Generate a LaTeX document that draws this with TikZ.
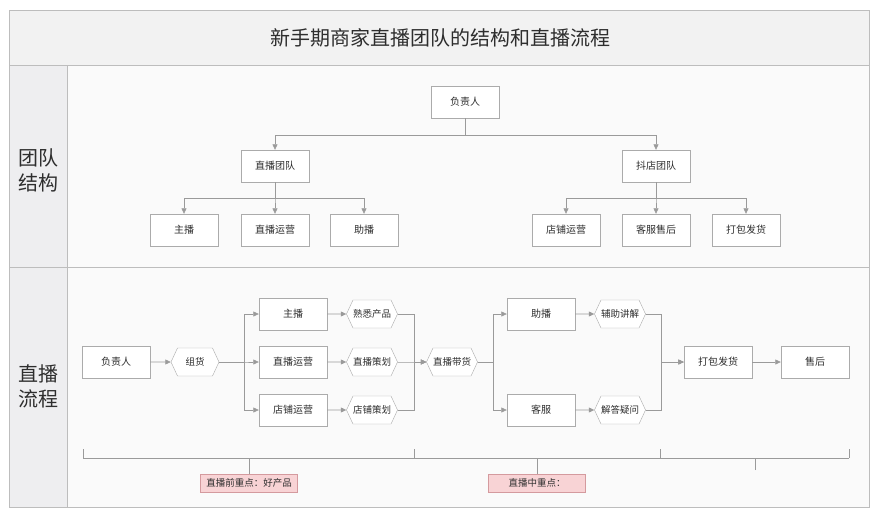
\documentclass[tikz,border=0pt]{standalone}
\usepackage{fontspec}
\setmainfont{Noto Sans CJK SC}
\usepackage{xcolor}
\usetikzlibrary{arrows.meta, positioning, shapes.symbols}
\definecolor{framegray}{HTML}{BDBDBD}
\definecolor{boxgray}{HTML}{ABABAB}
\definecolor{arrowgray}{HTML}{9A9A9A}
\definecolor{textgray}{HTML}{2E2E2E}
\definecolor{bandgray}{HTML}{F2F2F2}
\definecolor{colgray}{HTML}{EEEEF0}
\definecolor{notepink}{HTML}{F8D3D5}
\definecolor{notered}{HTML}{D49A9E}

\begin{document}
\begin{tikzpicture}[x=1pt, y=-1pt,
    box/.style={draw=boxgray, fill=white, minimum width=68pt, minimum height=32pt,
        inner sep=0pt, text=textgray, font=\fontsize{10}{12}\selectfont},
    hexa/.style={draw=boxgray, fill=white, signal, signal to=east and west,
        signal pointer angle=130, minimum width=48pt, minimum height=28pt,
        inner xsep=0pt, inner ysep=0pt, text=textgray, font=\fontsize{9.5}{11}\selectfont},
    link/.style={draw=arrowgray, line width=0.6pt},
    flow/.style={link, -{Triangle[length=5.5pt, width=5pt]}},
    note/.style={draw=notered, fill=notepink, minimum width=97pt, minimum height=18pt,
        inner sep=0pt, text=textgray, font=\fontsize{9.5}{11}\selectfont}]
    \useasboundingbox (0,0) rectangle (879,517);
    \fill[white] (0,0) rectangle (879,517);

    % frame, title band and row labels
    \fill[bandgray] (9,10) rectangle (869,65);
    \fill[colgray] (9,65) rectangle (67,507);
    \fill[white!98!black] (67,65) rectangle (869,507);
    \draw[framegray, line width=0.8pt] (9,10) rectangle (869,507);
    \draw[framegray, line width=0.8pt] (9,65) -- (869,65);
    \draw[framegray, line width=0.8pt] (9,267) -- (869,267);
    \draw[framegray, line width=0.8pt] (67,65) -- (67,507);
    \node[text=textgray, font=\fontsize{20}{24}\selectfont] (title) at (440,38) {新手期商家直播团队的结构和直播流程};
    \node[text=textgray, font=\fontsize{20}{25}\selectfont, align=center] (rowteam) at (38,170) {团队\\结构};
    \node[text=textgray, font=\fontsize{20}{25}\selectfont, align=center] (rowflow) at (38,386) {直播\\流程};

    % team structure
    \node[box] (head) at (465,102) {负责人};
    \node[box] (liveteam) at (275,166) {直播团队};
    \node[box] (shopteam) at (656,166) {抖店团队};
    \node[box] (anchor) at (184,230) {主播};
    \node[box] (liveops) at (275,230) {直播运营};
    \node[box] (assist) at (364,230) {助播};
    \node[box] (shopops) at (566,230) {店铺运营};
    \node[box] (service) at (656,230) {客服售后};
    \node[box] (packing) at (746,230) {打包发货};
    \foreach \t in {liveteam, shopteam}
        \draw[flow] (head.south) -- ++(0,17) -| (\t.north);
    \foreach \t in {anchor, liveops, assist}
        \draw[flow] (liveteam.south) -- ++(0,16) -| (\t.north);
    \foreach \t in {shopops, service, packing}
        \draw[flow] (shopteam.south) -- ++(0,16) -| (\t.north);

    % live flow
    \node[box] (boss) at (116,362) {负责人};
    \node[hexa] (goods) at (195,362) {组货};
    \node[box] (fanchor) at (293,314) {主播};
    \node[box] (fliveops) at (293,362) {直播运营};
    \node[box] (fshopops) at (293,410) {店铺运营};
    \node[hexa] (know) at (372,314) {熟悉产品};
    \node[hexa] (plan) at (372,362) {直播策划};
    \node[hexa] (shopplan) at (372,410) {店铺策划};
    \node[hexa] (selling) at (452,362) {直播带货};
    \node[box] (fassist) at (541,314) {助播};
    \node[box] (fservice) at (541,410) {客服};
    \node[hexa] (explain) at (620,314) {辅助讲解};
    \node[hexa] (answer) at (620,410) {解答疑问};
    \node[box] (fpacking) at (718,362) {打包发货};
    \node[box] (after) at (815,362) {售后};

    \draw[flow] (boss) -- (goods);
    \foreach \t in {fanchor, fliveops, fshopops}
        \draw[flow] (goods.east) -- ++(25,0) |- (\t.west);
    \draw[flow] (fanchor) -- (know);
    \draw[flow] (fliveops) -- (plan);
    \draw[flow] (fshopops) -- (shopplan);
    \foreach \s in {know, plan, shopplan}
        \draw[flow] (\s.east) -- ++(17,0) |- (selling.west);
    \foreach \t in {fassist, fservice}
        \draw[flow] (selling.east) -- ++(16,0) |- (\t.west);
    \draw[flow] (fassist) -- (explain);
    \draw[flow] (fservice) -- (answer);
    \foreach \s in {explain, answer}
        \draw[flow] (\s.east) -- ++(16,0) |- (fpacking.west);
    \draw[flow] (fpacking) -- (after);

    % stage bracket
    \coordinate (brl) at (83,458);
    \coordinate (brr) at (849,458);
    \draw[link] (brl) -- (brr);
    \foreach \x in {83, 414, 660, 849}
        \draw[link] (\x,449) -- (\x,458);
    \node[note] (before) at (249,483) {直播前重点：好产品};
    \node[note] (during) at (537,483) {直播中重点：};
    \coordinate (aftertick) at (755,470);
    \draw[link] (before.north) -- (before.north |- brl);
    \draw[link] (during.north) -- (during.north |- brl);
    \draw[link] (aftertick) -- (aftertick |- brl);
\end{tikzpicture}
\end{document}
